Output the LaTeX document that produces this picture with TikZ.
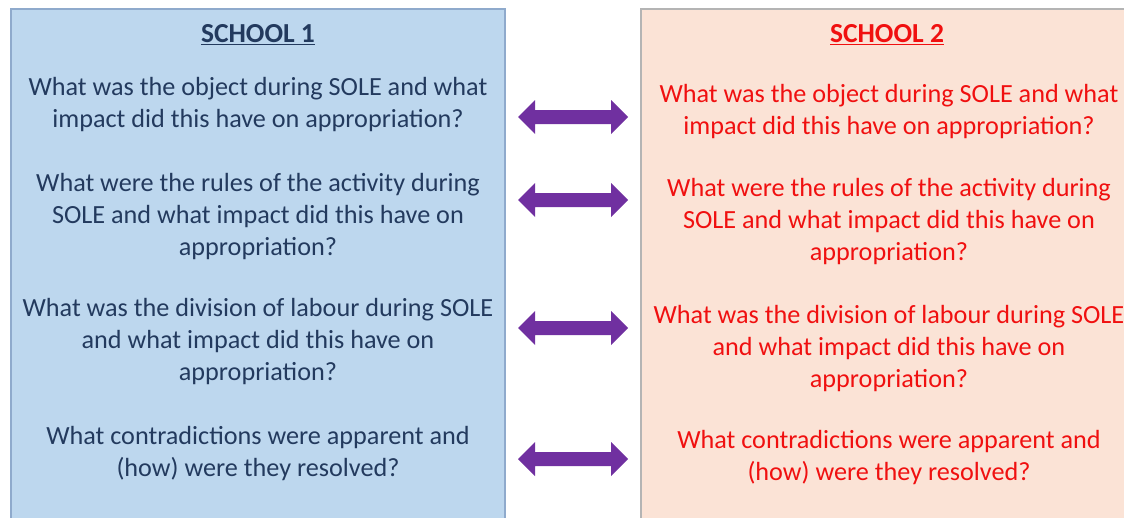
\documentclass[tikz,border=0pt]{standalone}
\usepackage{fontspec}
\setmainfont{Carlito}
\definecolor{bluefill}{HTML}{BDD7EE}
\definecolor{blueedge}{HTML}{8FAACC}
\definecolor{peachfill}{HTML}{FBE3D6}
\definecolor{peachedge}{HTML}{B4B4B4}
\definecolor{navytext}{HTML}{233A5E}
\definecolor{redtext}{HTML}{F01010}
\definecolor{arrowpurple}{HTML}{7030A0}
\tikzset{
  panel/.style={line width=1.2pt},
  qtext/.style={align=center, inner sep=0pt, font=\fontsize{26.2}{32}\selectfont},
  head/.style={inner sep=0pt, font=\fontsize{27.5}{30}\selectfont\bfseries},
  pics/twoway/.style={code={
    \fill[arrowpurple] (-55,0) -- (-38,-17) -- (-38,-7) -- (38,-7) -- (38,-17)
      -- (55,0) -- (38,17) -- (38,7) -- (-38,7) -- (-38,17) -- cycle;
  }}
}
\begin{document}
\begin{tikzpicture}[x=1pt,y=-1pt]
\useasboundingbox (0,0) rectangle (1124,517);
% the two school panels
\draw[panel, draw=blueedge, fill=bluefill] (11,9) rectangle (505,530);
\draw[panel, draw=peachedge, fill=peachfill] (641,9) rectangle (1140,530);
% headings
\node[head, text=navytext] (h1) at (258,35) {\underline{SCHOOL 1}};
\node[head, text=redtext] (h2) at (887,35) {\underline{SCHOOL 2}};
% school 1 questions
\begin{scope}[every node/.append style={qtext, text=navytext}]
\node (a1) at (258,105) {What was the object during SOLE and what\\impact did this have on appropriation?};
\node (a2) at (258,217) {What were the rules of the activity during\\SOLE and what impact did this have on\\appropriation?};
\node (a3) at (258,342) {What was the division of labour during SOLE\\and what impact did this have on\\appropriation?};
\node (a4) at (258,454) {What contradictions were apparent and\\(how) were they resolved?};
\end{scope}
% school 2 questions
\begin{scope}[every node/.append style={qtext, text=redtext}]
\node (b1) at (889,112) {What was the object during SOLE and what\\impact did this have on appropriation?};
\node (b2) at (889,222) {What were the rules of the activity during\\SOLE and what impact did this have on\\appropriation?};
\node (b3) at (889,349) {What was the division of labour during SOLE\\and what impact did this have on\\appropriation?};
\node (b4) at (889,458) {What contradictions were apparent and\\(how) were they resolved?};
\end{scope}
% two-way arrows between the panels
\pic at (573,117) {twoway};
\pic at (573,200) {twoway};
\pic at (573,328) {twoway};
\pic at (573,459) {twoway};
\end{tikzpicture}
\end{document}
